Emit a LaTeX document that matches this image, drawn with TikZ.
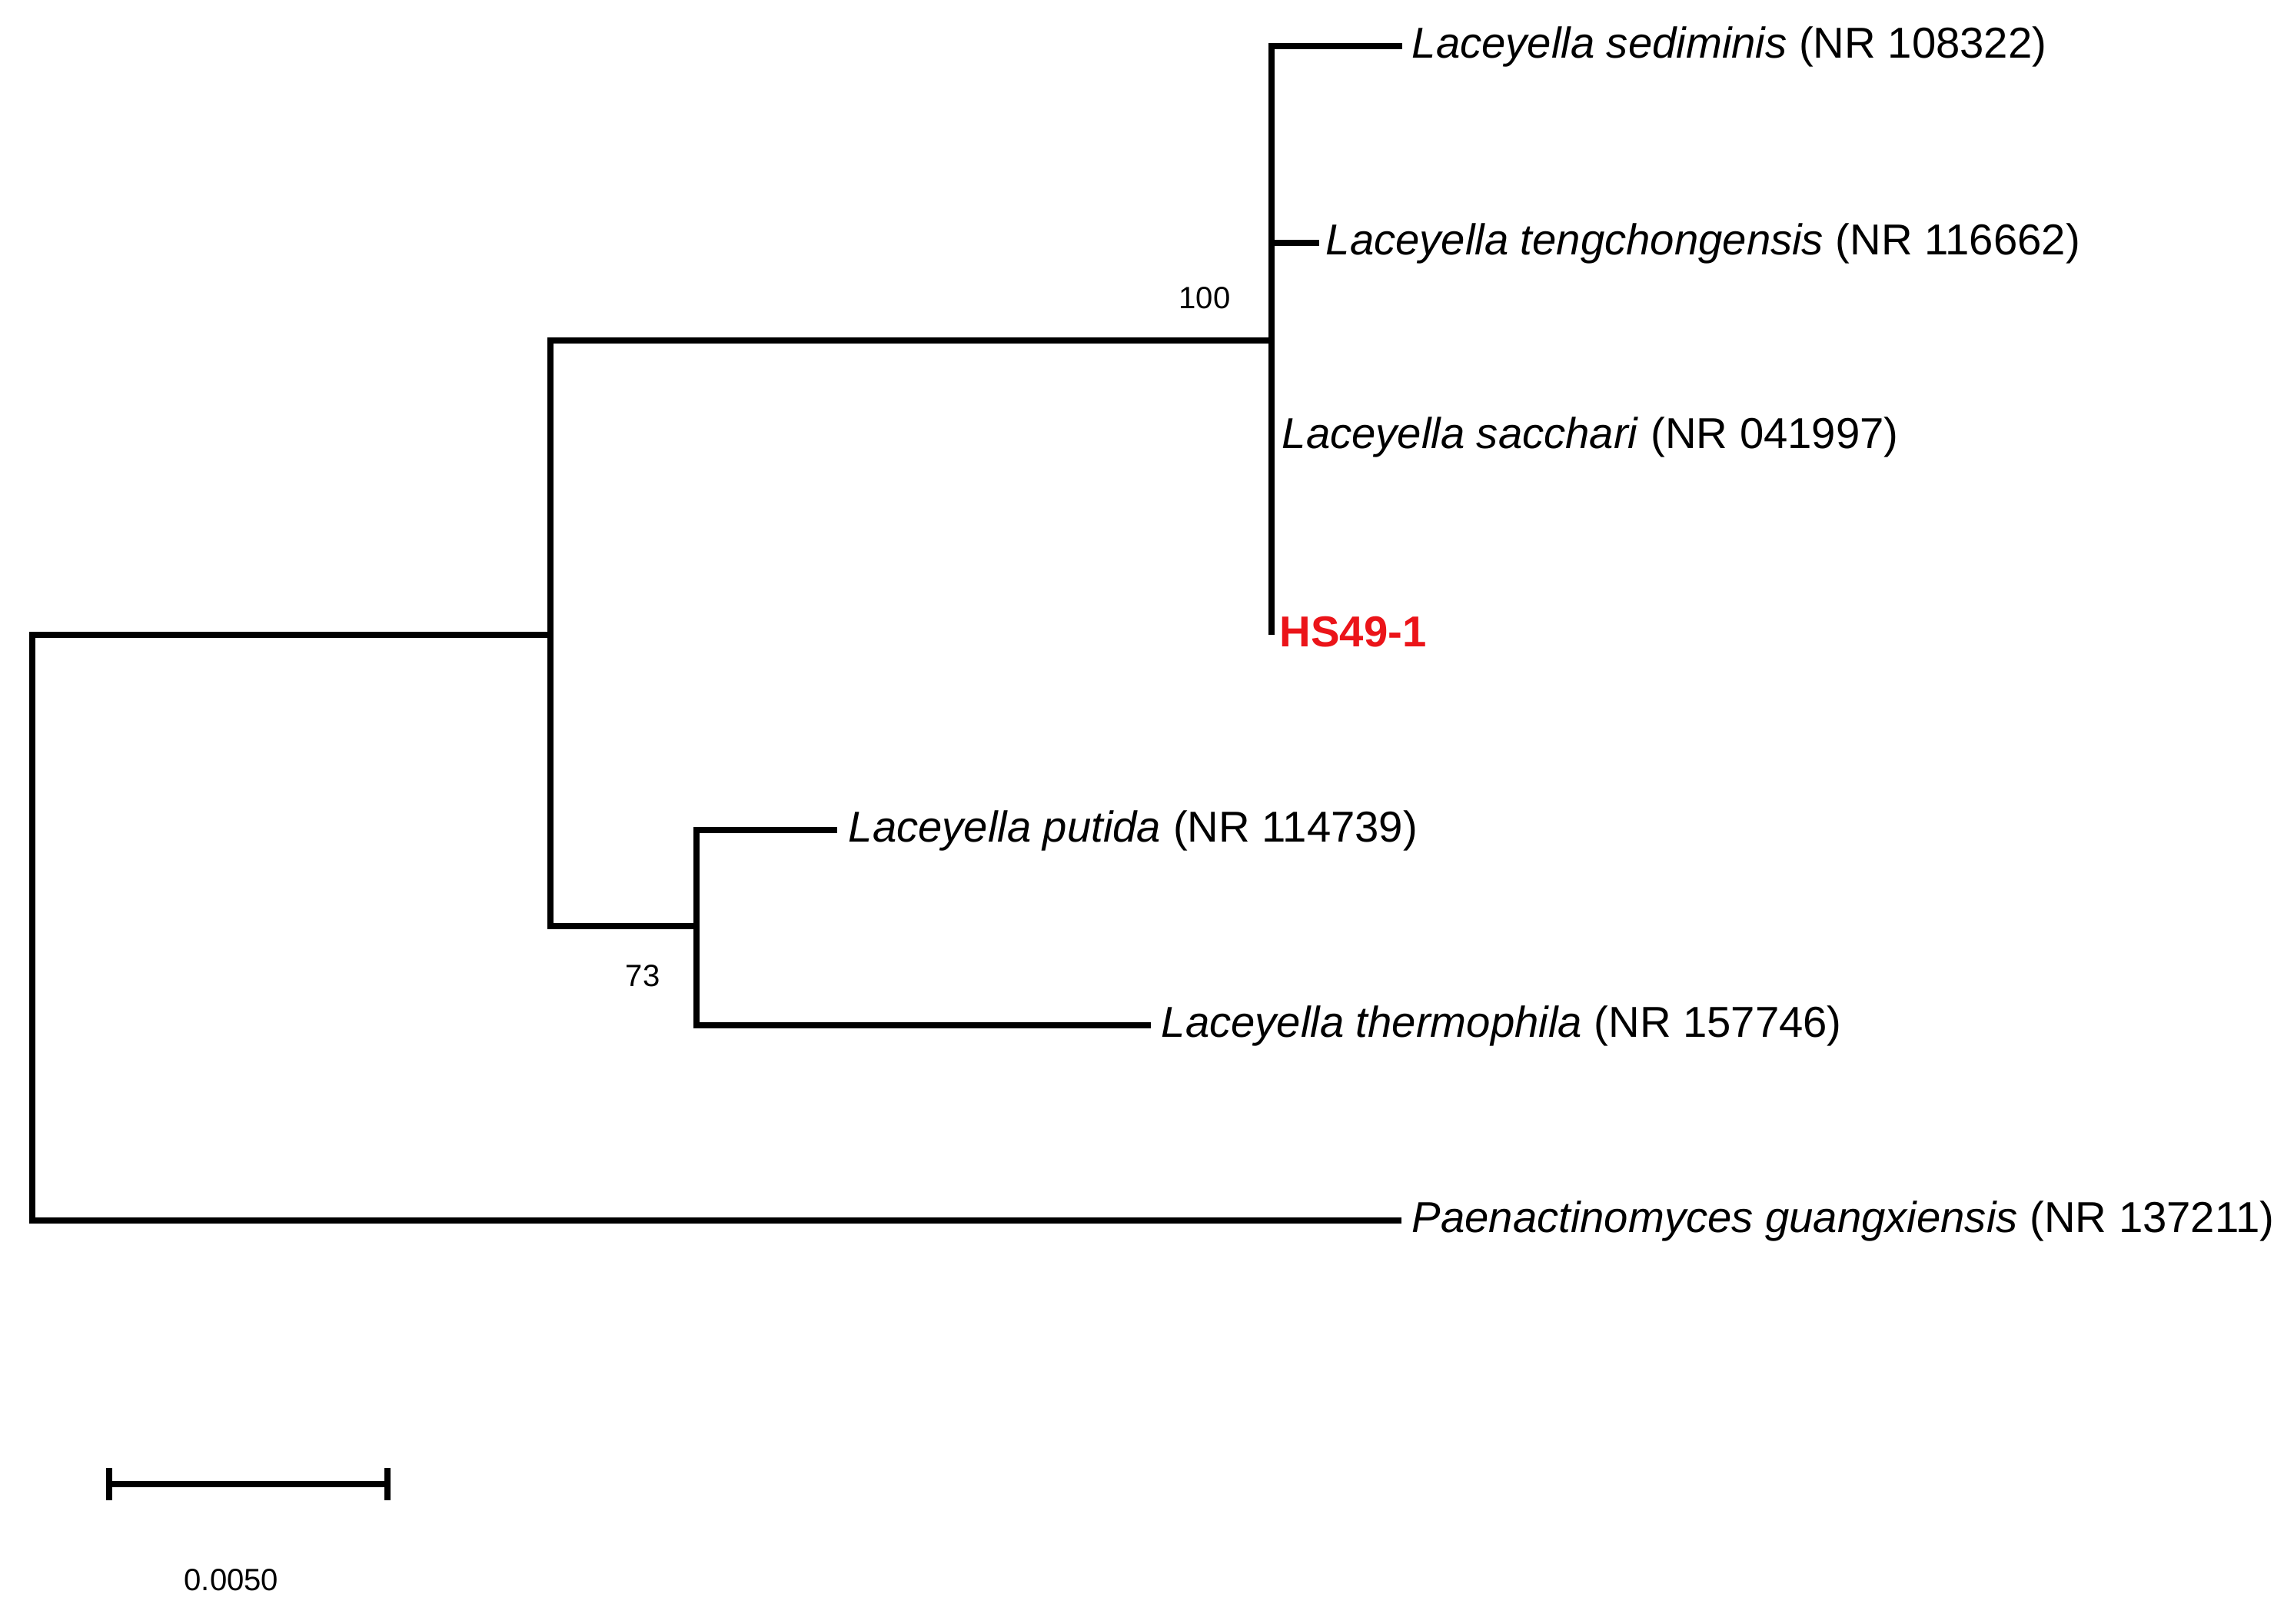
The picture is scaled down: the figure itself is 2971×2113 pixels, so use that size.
\documentclass[tikz,border=0pt]{standalone}
\usepackage{fontspec}
\setmainfont{Liberation Sans}
\definecolor{hsred}{RGB}{235,20,25}
\begin{document}
\begin{tikzpicture}[x=0.01cm,y=-0.01cm,
  br/.style={line width=2pt,line cap=butt,line join=miter},
  leaf/.style={anchor=base west,inner sep=0pt,yshift=-0.45em,font=\fontsize{16}{19}\selectfont},
  boot/.style={inner sep=0pt,font=\fontsize{11.4}{13}\selectfont}]
\useasboundingbox (0,0) rectangle (2971,2113);
% internal nodes
\coordinate (Btop) at (1654,60);
\coordinate (Bmid) at (1654,443);
\coordinate (Bten) at (1654,316);
\coordinate (Bsac) at (1654,568);
\coordinate (Bbot) at (1654,826);
\coordinate (Atop) at (716,443);
\coordinate (Amid) at (716,826);
\coordinate (Abot) at (716,1205);
\coordinate (Ctop) at (906,1080);
\coordinate (Cmid) at (906,1205);
\coordinate (Cbot) at (906,1334);
\coordinate (Rtop) at (42,826);
\coordinate (Rbot) at (42,1588);
% leaf tips
\coordinate (sedtip) at (1824,60);
\coordinate (tentip) at (1716,316);
\coordinate (puttip) at (1089,1080);
\coordinate (thetip) at (1497,1334);
\coordinate (paetip) at (1823,1588);
% tree
\draw[br] (sedtip) -- (Btop) -- (Bbot);
\draw[br] (Bten) -- (tentip);
\draw[br] (Bmid) -- (Atop) -- (Abot) -- (Cmid);
\draw[br] (puttip) -- (Ctop) -- (Cbot) -- (thetip);
\draw[br] (Amid) -- (Rtop) -- (Rbot) -- (paetip);
% labels
\node[leaf] (sed) at ([xshift=0.12cm]sedtip) {\textit{Laceyella sediminis} (NR 108322)};
\node[leaf] (ten) at ([xshift=0.08cm]tentip) {\textit{Laceyella tengchongensis} (NR 116662)};
\node[leaf] (sac) at ([xshift=0.13cm]Bsac) {\textit{Laceyella sacchari} (NR 041997)};
\node[leaf,text=hsred,font=\fontsize{16}{19}\selectfont\bfseries] (hs) at ([xshift=0.10cm]Bbot) {HS49-1};
\node[leaf] (put) at ([xshift=0.14cm]puttip) {\textit{Laceyella putida} (NR 114739)};
\node[leaf] (the) at ([xshift=0.13cm]thetip) {\textit{Laceyella thermophila} (NR 157746)};
\node[leaf] (pae) at ([xshift=0.13cm]paetip) {\textit{Paenactinomyces guangxiensis} (NR 137211)};
\node[boot] (b100) at (1567,388) {100};
\node[boot] (b73) at (836,1270) {73};
% scale bar
\coordinate (sb1) at (142,1931);
\coordinate (sb2) at (504,1931);
\draw[br] (sb1) -- (sb2);
\draw[br] ([yshift=0.21cm]sb1) -- ([yshift=-0.21cm]sb1);
\draw[br] ([yshift=0.21cm]sb2) -- ([yshift=-0.21cm]sb2);
\node[boot] (sbl) at (301,2056) {0.0050};
\end{tikzpicture}
\end{document}
